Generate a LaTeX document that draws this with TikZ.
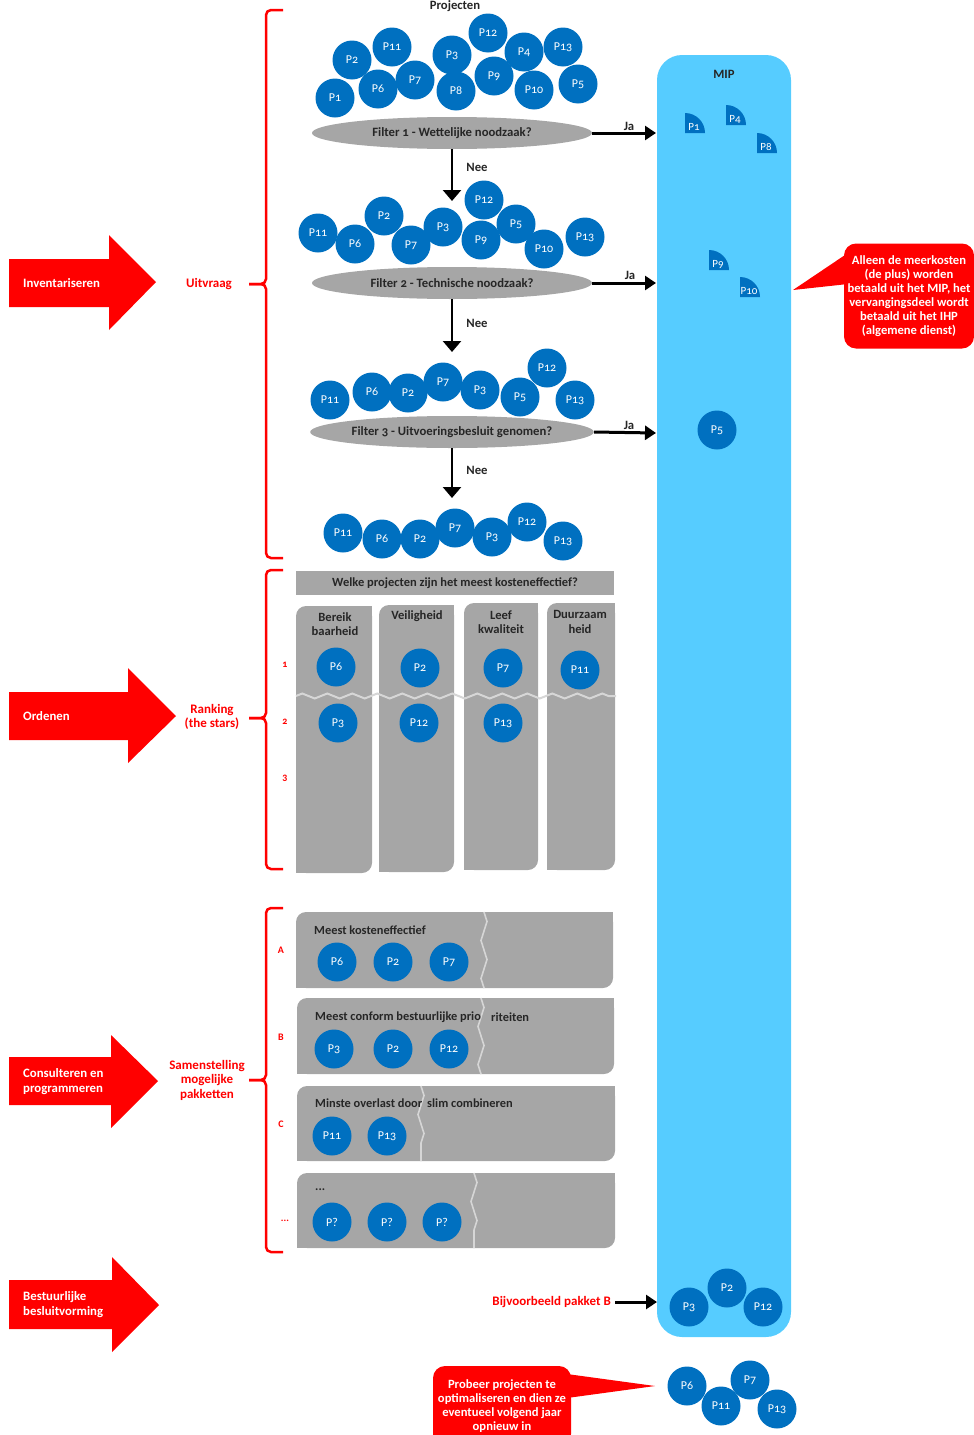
\documentclass[tikz,border=0pt]{standalone}
\usepackage{fontspec}
\setmainfont{Carlito}[Numbers=OldStyle]
\usetikzlibrary{arrows.meta,positioning,shapes.geometric,decorations.pathmorphing}

\definecolor{projblue}{RGB}{0,112,192}
\definecolor{mipblue}{RGB}{86,204,255}
\definecolor{boxgrey}{RGB}{166,166,166}
\definecolor{tear}{RGB}{214,214,214}
\definecolor{txtdark}{RGB}{38,38,38}

% grey box, rounded top-left and bottom-right
\newcommand{\tabbox}[4]{%
  \fill[boxgrey,rounded corners=10pt] (#1,#2) rectangle (#3,#4);
  \fill[boxgrey] (#3-12,#2) rectangle (#3,#2+12);
  \fill[boxgrey] (#1,#4-12) rectangle (#1+12,#4);
}
% quarter of a project bubble (in the MIP)
\newcommand{\quarter}[4]{%
  \fill[projblue] (#2,#3) -- ++(20,0) arc[start angle=0,end angle=90,radius=20pt] -- cycle;
  \node[qlbl] (#1) at (#2+9,#3-6) {#4};
}

\begin{document}
\begin{tikzpicture}[x=1pt,y=-1pt,>=Stealth]
\tikzset{
  proj/.style={circle,fill=projblue,text=white,minimum size=39pt,inner sep=0pt,font=\fontsize{12}{14}\selectfont},
  qlbl/.style={text=white,inner sep=0pt,font=\fontsize{11}{12}\selectfont},
  filter/.style={ellipse,fill=boxgrey,minimum width=280pt,minimum height=32pt,inner sep=0pt,text=txtdark,font=\bfseries\fontsize{12.7}{14}\selectfont},
  ja/.style={line width=3pt,-{Triangle[width=14pt,length=11pt]}},
  nee/.style={line width=2.5pt,-{Triangle[width=18pt,length=11pt]}},
  lbl/.style={text=txtdark,font=\bfseries\fontsize{12.7}{14}\selectfont},
  redlbl/.style={text=red,align=center,font=\bfseries\fontsize{13}{14.5}\selectfont},
  wlbl/.style={text=white,align=left,anchor=west,inner sep=0pt,font=\bfseries\fontsize{12.8}{15}\selectfont},
  coltitle/.style={align=center,text=txtdark,inner sep=0pt,font=\bfseries\fontsize{12.6}{14.5}\selectfont},
  pkgtext/.style={anchor=west,inner sep=0pt,text=txtdark,font=\bfseries\fontsize{12.4}{14}\selectfont},
  note/.style={fill=red,rounded corners=12pt,text=white,align=center,inner sep=0pt,font=\bfseries\fontsize{12.6}{14}\selectfont},
  rank/.style={text=red,inner sep=0pt,font=\bfseries\fontsize{10}{11}\selectfont},
  brace/.style={red,line width=2.5pt,rounded corners=5pt},
  tearline/.style={tear,line width=1.6pt,decorate,decoration={zigzag,segment length=38pt,amplitude=3pt}}
}
\useasboundingbox (0,0) rectangle (974,1435);

% MIP column
\fill[mipblue,rounded corners=25pt] (657,55) rectangle (791,1337);
\node[lbl] (mip) at (724,74) {MIP};

% left process arrows
\fill[red] (9,259) -- (109,259) -- (109,235) -- (156,282) -- (109,330) -- (109,307) -- (9,307) -- cycle;
\node[wlbl] (inv) at (23,283) {Inventariseren};
\fill[red] (9,692) -- (128,692) -- (128,668) -- (176,716) -- (128,763) -- (128,740) -- (9,740) -- cycle;
\node[wlbl] (ord) at (23,716) {Ordenen};
\fill[red] (9,1057) -- (111,1057) -- (111,1035) -- (158,1081) -- (111,1128) -- (111,1105) -- (9,1105) -- cycle;
\node[wlbl] (cons) at (23,1082) {Consulteren en\\programmeren};
\fill[red] (9,1280) -- (112,1280) -- (112,1257) -- (159,1305) -- (112,1352) -- (112,1329) -- (9,1329) -- cycle;
\node[wlbl] (best) at (23,1305) {Bestuurlijke\\besluitvorming};

% braces
\draw[brace] (283,10) -| (266,284) -- (249,284);
\draw[brace] (249,284) -| (266,558) -- (283,558);
\node[redlbl] (uit) at (209,284) {Uitvraag};
\draw[brace] (283,570) -| (266,718) -- (249,718);
\draw[brace] (249,718) -| (266,869) -- (283,869);
\node[redlbl] (rank) at (212,717) {Ranking\\(the stars)};
\draw[brace] (283,908) -| (266,1080) -- (249,1080);
\draw[brace] (249,1080) -| (266,1252) -- (283,1252);
\node[redlbl] (samen) at (207,1080) {Samenstelling\\mogelijke\\pakketten};

% inventarisatie
\node[lbl,inner sep=0pt] (projecten) at (455,6) {Projecten};
\foreach \n/\px/\py in {1/335/98,2/352/60,11/392/47,6/378/89,7/415/80,3/452/55,8/456/91,12/488/33,9/494/76,4/524/52,10/534/90,13/563/47,5/578/84}
  \node[proj] (t\n) at (\px,\py) {P\n};
\node[filter] (f1) at (452,133) {Filter 1 - Wettelijke noodzaak?};
\coordinate (j1) at (656,133);
\draw[ja] (f1.east) -- (j1);
\node[lbl] (ja1) at (629,126) {Ja};
\coordinate (n1) at (452,201);
\draw[nee] (f1.south) -- (n1);
\node[lbl] (nee1) at (477,167) {Nee};

\foreach \n/\px/\py in {11/318/233,6/355/244,2/384/216,7/411/245,3/443/227,12/484/200,9/481/240,5/516/224,10/544/249,13/585/237}
  \node[proj] (s\n) at (\px,\py) {P\n};
\node[filter] (f2) at (452,283) {Filter 2 - Technische noodzaak?};
\coordinate (j2) at (656,283);
\draw[ja] (f2.east) -- (j2);
\node[lbl] (ja2) at (630,275) {Ja};
\coordinate (n2) at (452,352);
\draw[nee] (f2.south) -- (n2);
\node[lbl] (nee2) at (477,323) {Nee};

\foreach \n/\px/\py in {11/330/400,6/372/392,2/408/393,7/443/382,3/480/390,5/520/397,12/547/368,13/575/400}
  \node[proj] (u\n) at (\px,\py) {P\n};
\node[filter] (f3) at (452,432) {Filter 3 - Uitvoeringsbesluit genomen?};
\coordinate (j3) at (656,433);
\draw[ja] (f3.east) -- (j3);
\node[lbl] (ja3) at (629,425) {Ja};
\coordinate (n3) at (452,498);
\draw[nee] (f3.south) -- (n3);
\node[lbl] (nee3) at (477,470) {Nee};

\foreach \n/\px/\py in {11/343/533,6/382/539,2/420/539,7/455/528,3/492/537,12/527/522,13/563/541}
  \node[proj] (v\n) at (\px,\py) {P\n};

% MIP contents
\quarter{q1}{685}{133}{P1}
\quarter{q4}{726}{125}{P4}
\quarter{q8}{757}{153}{P8}
\quarter{q9}{709}{270}{P9}
\quarter{q10}{740}{297}{P10}
\node[proj] (m5) at (717,430) {P5};

\node[note,minimum width=130pt,minimum height=105pt] (note1) at (909,296)
  {Alleen de meerkosten\\(de plus) worden\\betaald uit het MIP, het\\vervangingsdeel wordt\\betaald uit het IHP\\(algemene dienst)};
\coordinate (tip1) at (793,290);
\fill[red] (848,253) -- (tip1) -- (848,284) -- cycle;

% ordenen
\node[fill=boxgrey,minimum width=318pt,minimum height=24pt,inner sep=0pt,text=txtdark,font=\bfseries\fontsize{12.5}{14}\selectfont] (vraag) at (455,583) {Welke projecten zijn het meest kosteneffectief?};
\tabbox{296}{606}{372}{873}
\tabbox{379}{605}{454}{872}
\tabbox{464}{603}{538}{870}
\tabbox{547}{603}{615}{870}
\node[coltitle] (c1) at (335,624) {Bereik\\baarheid};
\node[coltitle] (c2) at (417,616) {Veiligheid};
\node[coltitle] (c3) at (501,622) {Leef\\kwaliteit};
\node[coltitle] (c4) at (580,622) {Duurzaam\\heid};
\draw[tear,line width=2pt,decorate,decoration={zigzag,segment length=25pt,amplitude=2.5pt}] (296,696) -- (616,696);
\node[proj] (r6) at (336,667) {P6};
\node[proj] (r2) at (420,668) {P2};
\node[proj] (r7) at (503,668) {P7};
\node[proj] (r11) at (580,670) {P11};
\node[proj] (r3) at (338,723) {P3};
\node[proj] (r12) at (419,723) {P12};
\node[proj] (r13) at (503,723) {P13};
\node[rank] (k1) at (285,665) {1};
\node[rank] (k2) at (285,722) {2};
\node[rank] (k3) at (285,778) {3};

% pakketten
\tabbox{296}{912}{613}{988}
\tabbox{297}{998}{614}{1074}
\tabbox{297}{1086}{615}{1161}
\tabbox{297}{1173}{615}{1248}
\draw[tearline] (484,912) -- (484,988);
\draw[tearline] (481,998) -- (481,1074);
\draw[tearline] (421,1086) -- (421,1161);
\draw[tearline] (474,1173) -- (474,1248);
\node[pkgtext] (pa) at (314,930) {Meest kosteneffectief};
\node[pkgtext] (pb) at (315,1017) {Meest conform bestuurlijke prio};
\node[pkgtext] (pb2) at (491,1017) {riteiten};
\node[pkgtext] (pc) at (315,1103) {Minste overlast door};
\node[pkgtext] (pc2) at (427,1103) {slim combineren};
\node[pkgtext] (pd) at (315,1190) {...};
\node[proj] (a6) at (337,962) {P6};
\node[proj] (a2) at (393,962) {P2};
\node[proj] (a7) at (449,962) {P7};
\node[proj] (b3) at (334,1049) {P3};
\node[proj] (b2) at (393,1049) {P2};
\node[proj] (b12) at (449,1049) {P12};
\node[proj] (c11) at (332,1136) {P11};
\node[proj] (c13) at (387,1136) {P13};
\node[proj] (d1) at (332,1222) {P?};
\node[proj] (d2) at (387,1222) {P?};
\node[proj] (d3) at (442,1222) {P?};
\node[rank] (ka) at (281,950) {A};
\node[rank] (kb) at (281,1037) {B};
\node[rank] (kc) at (281,1124) {C};
\node[rank] (kd) at (285,1221) {...};

% besluitvorming
\node[redlbl,anchor=east,inner sep=0pt] (voorb) at (611,1302) {Bijvoorbeeld pakket B};
\coordinate (jb) at (657,1302);
\draw[ja] ([xshift=4pt]voorb.east) -- (jb);
\node[proj] (mb3) at (689,1307) {P3};
\node[proj] (mb2) at (727,1288) {P2};
\node[proj] (mb12) at (763,1307) {P12};

\node[proj] (o6) at (687,1386) {P6};
\node[proj] (o11) at (721,1406) {P11};
\node[proj] (o7) at (750,1380) {P7};
\node[proj] (o13) at (777,1409) {P13};
\node[note,minimum width=138pt,minimum height=80pt] (note2) at (502,1406)
  {Probeer projecten te\\optimaliseren en dien ze\\eventueel volgend jaar\\opnieuw in};
\coordinate (tip2) at (655,1386);
\fill[red] (567,1374) -- (tip2) -- (567,1398) -- cycle;
\end{tikzpicture}
\end{document}
